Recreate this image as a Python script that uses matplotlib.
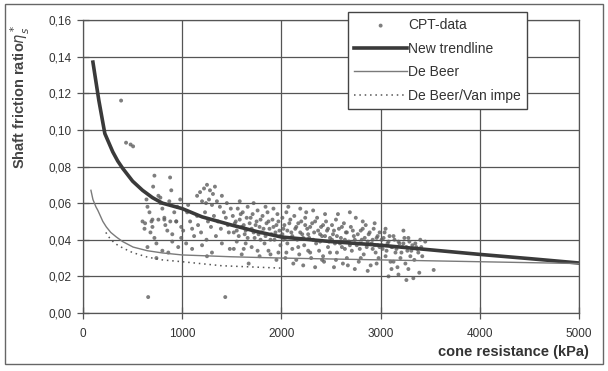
import numpy as np
import matplotlib.pyplot as plt
from matplotlib.ticker import FuncFormatter
from matplotlib.patches import Rectangle

plt.rcParams['font.family'] = ['Liberation Sans', 'DejaVu Sans']

# CPT-data (cone resistance kPa, shaft friction ratio)
cpt_q = [384, 434, 480, 505, 657, 1434,
         600, 620, 626, 640, 650, 650, 670, 680, 690, 700, 700, 707, 720, 720,
         740, 740, 760, 760, 780, 780, 800, 800, 820, 820, 830, 850, 860, 870,
         878, 880, 890, 900, 900, 920, 940, 940, 950, 960, 980, 990, 990,
         1150, 1180, 1220, 1250, 1280, 1310, 1330, 1200, 1240, 1270, 1300, 1350,
         1380, 1400, 1050, 1080, 1100, 1120, 1040, 1150, 1160, 1190, 1230, 1245,
         1260, 1290, 1320, 1340, 1360, 1390, 1420, 1440, 1460, 1470, 1490, 1100,
         1200, 1300, 1400, 1480, 1010, 1060, 1450, 1250,
         1510, 1530, 1550, 1560, 1580, 1600, 1610, 1630, 1650, 1660, 1680, 1700,
         1710, 1730, 1750, 1760, 1780, 1800, 1810, 1830, 1850, 1860, 1880, 1900,
         1910, 1930, 1950, 1960, 1980, 1990, 1520, 1600, 1700, 1780, 1870, 1950,
         1550, 1640, 1720, 1840, 1920, 1580, 1670, 1790, 1970,
         2010, 2020, 2040, 2050, 2060, 2080, 2100, 2110, 2130, 2150, 2160, 2180,
         2200, 2210, 2230, 2250, 2260, 2280, 2300, 2310, 2330, 2350, 2360, 2380,
         2400, 2410, 2430, 2450, 2460, 2480, 2490, 2040, 2120, 2220, 2340, 2420,
         2070, 2190, 2320, 2440, 2170, 2270, 2390, 2470, 2020, 2240,
         2510, 2520, 2540, 2550, 2560, 2580, 2600, 2610, 2630, 2650, 2660, 2680,
         2700, 2710, 2730, 2750, 2760, 2780, 2800, 2810, 2830, 2850, 2860, 2880,
         2900, 2910, 2930, 2950, 2960, 2980, 2990, 2530, 2620, 2740, 2870, 2570,
         2690, 2820, 2940, 2640, 2790, 2920, 2970,
         3010, 3020, 3040, 3050, 3070, 3090, 3100, 3120, 3140, 3150, 3170, 3190,
         3200, 3220, 3240, 3250, 3270, 3290, 3300, 3320, 3340, 3360, 3380, 3400,
         3050, 3110, 3180, 3260, 3330, 3390, 3080, 3420, 3450, 3230, 3535]
cpt_r = [0.116, 0.093, 0.092, 0.091, 0.0087, 0.0087,
         0.050, 0.046, 0.049, 0.062, 0.058, 0.036, 0.055, 0.044, 0.050, 0.047,
         0.051, 0.069, 0.041, 0.075, 0.038, 0.030, 0.064, 0.051, 0.060, 0.063,
         0.057, 0.034, 0.052, 0.051, 0.048, 0.045, 0.033, 0.061, 0.074, 0.050,
         0.067, 0.043, 0.039, 0.055, 0.050, 0.050, 0.058, 0.036, 0.062, 0.047,
         0.041,
         0.064, 0.066, 0.068, 0.070, 0.067, 0.065, 0.069, 0.061, 0.060, 0.062,
         0.059, 0.061, 0.058, 0.064, 0.055, 0.050, 0.046, 0.042, 0.038, 0.053,
         0.048, 0.044, 0.055, 0.040, 0.050, 0.047, 0.053, 0.042, 0.050, 0.046,
         0.055, 0.052, 0.048, 0.044, 0.057, 0.035, 0.037, 0.033, 0.038, 0.035,
         0.045, 0.059, 0.060, 0.031,
         0.053, 0.049, 0.045, 0.057, 0.051, 0.047, 0.055, 0.043, 0.052, 0.058,
         0.049, 0.046, 0.054, 0.041, 0.050, 0.056, 0.047, 0.044, 0.053, 0.038,
         0.049, 0.055, 0.046, 0.043, 0.051, 0.040, 0.048, 0.054, 0.045, 0.037,
         0.035, 0.032, 0.036, 0.031, 0.034, 0.029, 0.039, 0.038, 0.060, 0.058,
         0.057, 0.061, 0.027, 0.040, 0.033,
         0.052, 0.046, 0.041, 0.055, 0.038, 0.049, 0.044, 0.035, 0.053, 0.047,
         0.040, 0.032, 0.050, 0.043, 0.037, 0.055, 0.046, 0.041, 0.030, 0.049,
         0.044, 0.038, 0.052, 0.034, 0.047, 0.042, 0.028, 0.050, 0.045, 0.039,
         0.033, 0.030, 0.027, 0.026, 0.025, 0.031, 0.058, 0.057, 0.056, 0.054,
         0.036, 0.034, 0.043, 0.036, 0.040, 0.048,
         0.048, 0.043, 0.038, 0.051, 0.033, 0.046, 0.041, 0.036, 0.049, 0.044,
         0.030, 0.039, 0.047, 0.034, 0.042, 0.052, 0.037, 0.028, 0.045, 0.040,
         0.032, 0.048, 0.036, 0.043, 0.026, 0.038, 0.046, 0.033, 0.041, 0.030,
         0.044, 0.025, 0.027, 0.024, 0.023, 0.054, 0.055, 0.050, 0.049, 0.035,
         0.035, 0.035, 0.037,
         0.040, 0.035, 0.044, 0.031, 0.038, 0.042, 0.028, 0.036, 0.040, 0.033,
         0.025, 0.038, 0.030, 0.036, 0.041, 0.027, 0.034, 0.039, 0.031, 0.037,
         0.029, 0.036, 0.033, 0.040, 0.046, 0.024, 0.021, 0.018, 0.019, 0.022,
         0.020, 0.031, 0.039, 0.045, 0.0235]

# extra CPT-data in the dark band 1500-3400 kPa
dense_q = [1520, 1540, 1570, 1590, 1620, 1640, 1660, 1690, 1720, 1740,
           1770, 1790, 1820, 1840, 1870, 1890, 1920, 1940, 1970, 1990,
           2010, 2030, 2060, 2090, 2110, 2140, 2170, 2190, 2220, 2240,
           2270, 2290, 2320, 2340, 2370, 2390, 2420, 2440, 2470, 2490,
           2510, 2530, 2560, 2590, 2610, 2640, 2660, 2690, 2720, 2740,
           2770, 2790, 2820, 2840, 2870, 2890, 2920, 2940, 2970, 2990,
           3010, 3030, 3060, 3080, 3110, 3130, 3160, 3180, 3210, 3230,
           3260, 3280, 3310, 3350, 3370, 3410,
           1620, 1760, 1890, 2050, 2150, 2290, 2410, 2550, 2670, 2800,
           2960, 3130, 3280]
dense_r = [0.044, 0.050, 0.042, 0.054, 0.048, 0.045, 0.041, 0.052, 0.044, 0.048,
           0.043, 0.051, 0.046, 0.042, 0.050, 0.040, 0.047, 0.044, 0.050, 0.042,
           0.043, 0.048, 0.045, 0.051, 0.042, 0.046, 0.049, 0.044, 0.041, 0.052,
           0.043, 0.047, 0.040, 0.050, 0.045, 0.039, 0.048, 0.042, 0.046, 0.041,
           0.040, 0.045, 0.042, 0.038, 0.047, 0.040, 0.044, 0.037, 0.045, 0.040,
           0.043, 0.038, 0.046, 0.041, 0.039, 0.044, 0.040, 0.037, 0.042, 0.036,
           0.037, 0.041, 0.034, 0.039, 0.036, 0.042, 0.035, 0.039, 0.033, 0.038,
           0.036, 0.041, 0.034, 0.038, 0.035, 0.036,
           0.035, 0.034, 0.032, 0.033, 0.029, 0.033, 0.029, 0.029, 0.026, 0.030,
           0.027, 0.028, 0.024]

# trend curves
trend_q = [100, 160, 220, 260, 300, 350, 400, 450, 500, 600, 700, 800, 900, 1000,
           1200, 1500, 1750, 2000, 2500, 3000, 3600, 4000, 4500, 5000]
trend_r = [0.137, 0.116, 0.098, 0.093, 0.088, 0.083, 0.079, 0.0755, 0.072, 0.067,
           0.063, 0.060, 0.0585, 0.057, 0.0525, 0.048, 0.0445, 0.0415, 0.039, 0.037,
           0.034, 0.032, 0.0297, 0.0273]

beer_q = [80, 100, 130, 150, 200, 235, 280, 336, 400, 505, 650, 800, 1000, 1500,
          2000, 3000, 4000, 5000]
beer_r = [0.067, 0.062, 0.058, 0.056, 0.050, 0.047, 0.044, 0.0415, 0.039, 0.036,
          0.034, 0.0328, 0.0317, 0.0307, 0.030, 0.029, 0.028, 0.027]

impe_q = [230, 280, 350, 420, 500, 650, 800, 1000, 1400, 2000]
impe_r = [0.044, 0.040, 0.037, 0.035, 0.033, 0.0305, 0.029, 0.028, 0.0258, 0.0245]

fig = plt.figure(figsize=(6.08, 3.71), dpi=100)
ax = fig.add_axes([83/608, 1-313/371, (579-83)/608, (313-20)/371])

grid_c = '#555555'
ax.scatter(cpt_q + dense_q, cpt_r + dense_r, s=8, color='#5e5e5e', alpha=0.8,
           edgecolors='none', label='CPT-data', zorder=3)
ax.plot(trend_q, trend_r, color='#3a3a3a', lw=2.6, label='New trendline', zorder=4)
ax.plot(beer_q, beer_r, color='#7a7a7a', lw=1.0, label='De Beer', zorder=4)
ax.plot(impe_q, impe_r, color='#555555', lw=1.1, ls=(0, (1, 2.5)), label='De Beer/Van impe', zorder=4)

ax.set_xlim(0, 5000)
ax.set_ylim(0, 0.16)
ax.set_xticks(np.arange(0, 5001, 1000))
ax.set_yticks(np.arange(0, 0.161, 0.02))
ax.yaxis.set_major_formatter(FuncFormatter(lambda v, p: f'{v:.2f}'.replace('.', ',')))
ax.grid(True, color=grid_c, lw=0.9)
ax.set_axisbelow(True)
for s in ax.spines.values():
    s.set_color(grid_c)
    s.set_linewidth(0.9)
ax.tick_params(direction='inout', length=8, width=0.9, color=grid_c,
               labelsize=8.5, labelcolor='#333333')
ax.tick_params(axis='x', pad=7)
ax.tick_params(axis='y', pad=4)

ax.legend(loc='upper left', bbox_to_anchor=(348/608, 1-12/371),
          bbox_transform=fig.transFigure, fontsize=10, frameon=True,
          fancybox=False, edgecolor='#444444', framealpha=1,
          handlelength=3.8, labelspacing=0.68, borderpad=0.45,
          handletextpad=0.1, borderaxespad=0, markerscale=1.0, labelcolor='#333333')

fig.text(20/608, 1-24/371, r'Shaft friction ratio$\eta_s^*$', rotation=90,
         ha='center', va='top', fontsize=10.5, color='#444444', fontweight='bold')
fig.text(589/608, 1-352/371, 'cone resistance (kPa)', ha='right', va='center',
         fontsize=10.5, color='#333333', fontweight='bold')

# outer border of the scanned chart
fig.patches.append(Rectangle((5/608, 1-364/371), 598/608, 360/371,
                             transform=fig.transFigure, fill=False,
                             edgecolor='#666666', lw=1.0))

fig.savefig('out.png', dpi=100)
